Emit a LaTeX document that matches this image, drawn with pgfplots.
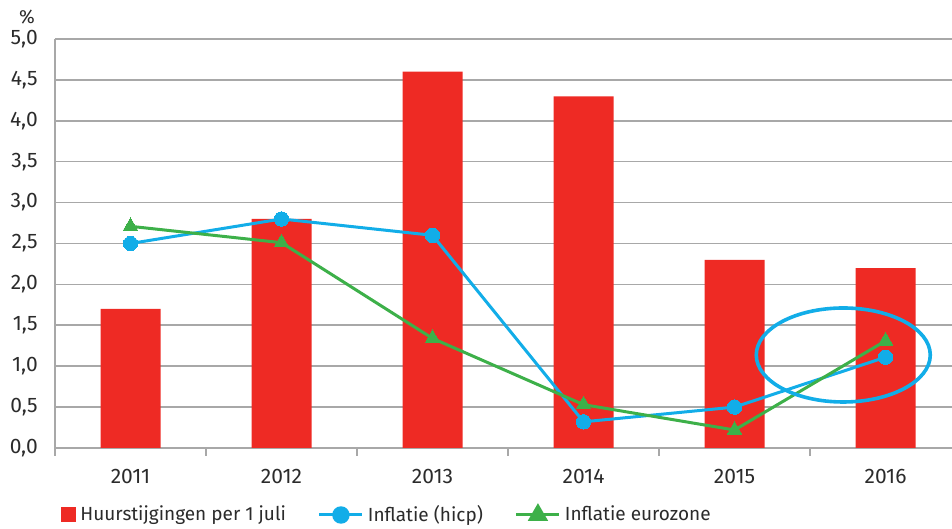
\documentclass[border=0pt]{standalone}
\usepackage{fontspec}
\setmainfont{Fira Sans}
\usepackage{pgfplots}
\pgfplotsset{compat=1.18}
\definecolor{hred}{HTML}{EE2A24}
\definecolor{hblue}{HTML}{12ADE8}
\definecolor{hgreen}{HTML}{3DB049}
\definecolor{gridgray}{HTML}{A8A8A8}
\definecolor{txt}{HTML}{2B2B2B}
\begin{document}
\begin{tikzpicture}
\fontsize{9.5pt}{11pt}\selectfont
\begin{axis}[
  scale only axis,
  width=448.5pt, height=204.5pt,
  xmin=-0.5, xmax=5.44,
  ymin=0, ymax=5,
  ytick={0,0.5,...,5},
  xtick={0,...,5},
  xticklabels={2011,2012,2013,2014,2015,2016},
  minor xtick={-0.5,0.5,1.5,2.5,3.5,4.5},
  major x tick style={draw=none},
  minor x tick style={gridgray, line width=0.8pt},
  minor tick length=4pt,
  ytick style={draw=none},
  tick align=outside,
  axis lines*=left,
  axis line style={gridgray, line width=0.8pt},
  ymajorgrids,
  grid style={gridgray, line width=0.8pt},
  /pgf/number format/fixed,
  /pgf/number format/fixed zerofill,
  /pgf/number format/precision=1,
  /pgf/number format/use comma,
  /pgf/number format/assume math mode=true,
  tick label style={font=\fontsize{10.5pt}{12pt}\selectfont, text=txt},
  xticklabel style={yshift=-3pt},
  yticklabel style={xshift=-1pt},
  legend style={at={(rel axis cs:0,0)}, anchor=west, yshift=-33.5pt, draw=none,
    legend columns=-1, font=\fontsize{9.5pt}{11pt}\selectfont, text=txt,
    /tikz/every even column/.append style={column sep=14pt}},
  clip=false,
]
\addplot[ybar, bar width=30pt, fill=hred, draw=none,
  legend image code/.code={\fill[hred] (0pt,-3.75pt) rectangle (7.5pt,3.75pt);}]
  coordinates {(0,1.7) (1,2.8) (2,4.6) (3,4.3) (4,2.3) (5,2.2)};
\addlegendentry{Huurstijgingen per 1 juli}
\addplot[hblue, line width=1.5pt, mark=*, mark size=3.6pt, mark options={fill=hblue, draw=hblue, line width=0pt},
  legend image code/.code={\draw[hblue, line width=1.5pt] (0pt,0pt) -- (21.5pt,0pt); \fill[hblue] (10.75pt,0pt) circle (3.6pt);}]
  coordinates {(0,2.5) (1,2.8) (2,2.6) (3,0.32) (4,0.5) (5,1.11)};
\addlegendentry{Inflatie (hicp)}
\addplot[hgreen, line width=1.5pt, mark=triangle*, mark size=4.2pt, mark options={fill=hgreen, draw=hgreen, line width=0pt},
  legend image code/.code={\draw[hgreen, line width=1.5pt] (0pt,0pt) -- (21.5pt,0pt); \fill[hgreen] (10.75pt,0pt) ++(90:4.4pt) -- ++(-120:7.6pt) -- ++(0:7.6pt) -- cycle;}]
  coordinates {(0,2.71) (1,2.51) (2,1.34) (3,0.53) (4,0.22) (5,1.31)};
\addlegendentry{Inflatie eurozone}
\draw[hblue, line width=1.8pt] (axis cs:4.72,1.137) ellipse [x radius=43.5pt, y radius=23.5pt];
\coordinate (O) at (rel axis cs:0,0);
\coordinate (T) at (rel axis cs:0,1);
\end{axis}
\node[text=txt, font=\fontsize{9.5pt}{11pt}\selectfont] at ([xshift=-14pt, yshift=11pt]T) {\%};
\pgfresetboundingbox
\path[use as bounding box] ([xshift=-27.5pt, yshift=-40.5pt]O) rectangle ++(476pt,264.5pt);
\end{tikzpicture}
\end{document}
